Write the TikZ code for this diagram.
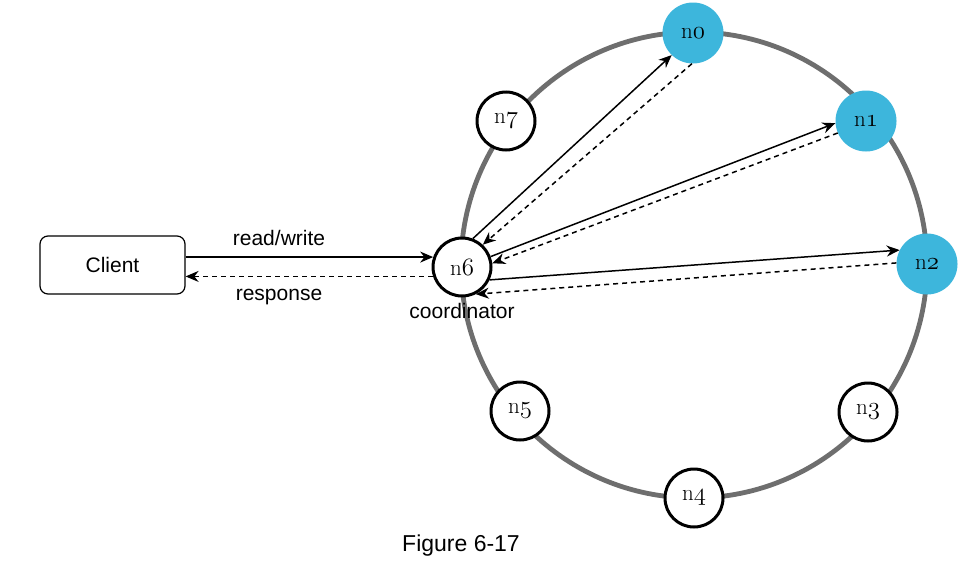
\documentclass[tikz,border=0pt]{standalone}
\usepackage{fontspec}
\setmainfont{Liberation Sans}
\newfontfamily\lmrfont{Latin Modern Roman}
\usetikzlibrary{arrows.meta}
\newcommand\osn[1]{{\fontencoding{OML}\fontfamily{cmm}\fontseries{m}\fontshape{it}\selectfont #1}}
\newcommand\nlab[1]{{\lmrfont n}\osn{#1}}
\definecolor{nblue}{HTML}{3DB6DC}
\definecolor{ringgray}{HTML}{6E6E6E}
\begin{document}
\begin{tikzpicture}[x=1pt,y=-1pt,
  ringnode/.style={circle, draw=black, line width=3pt, fill=white, minimum size=58pt, inner sep=0pt, font=\fontsize{23}{27}\selectfont},
  hotnode/.style={circle, fill=nblue, minimum size=61pt, inner sep=0pt, font=\fontsize{23}{27}\selectfont},
  req/.style={-{Stealth[length=13pt,width=11pt]}, line width=1.5pt, black},
  resp/.style={req, dash pattern=on 5pt off 4pt},
  lbl/.style={font=\fontsize{21}{25}\selectfont, inner sep=0pt, anchor=base},
  box/.style={draw=black, line width=1.2pt, rounded corners=8pt, minimum width=145pt, minimum height=58pt, font=\fontsize{21}{25}\selectfont}]
\useasboundingbox (0,0) rectangle (976,562);
\fill[white] (0,0) rectangle (976,562);
\draw[ringgray, line width=4.8pt] (694,265) circle (233);
\node[hotnode] (n0) at (693,33) {\nlab{0}};
\node[hotnode] (n1) at (866,121) {\nlab{1}};
\node[hotnode] (n2) at (927,264) {\nlab{2}};
\node[ringnode] (n3) at (868,412) {\nlab{3}};
\node[ringnode] (n4) at (694,498) {\nlab{4}};
\node[ringnode] (n5) at (520,411) {\nlab{5}};
\node[ringnode] (n6) at (462,267) {\nlab{6}};
\node[ringnode] (n7) at (506,121) {\nlab{7}};
\node[box] (client) at (112.5,265) {Client};
\node[lbl] (rw) at (279,245) {read/write};
\node[lbl] (rs) at (279,300) {response};
\node[lbl] (co) at (462,318) {coordinator};
\node[font=\fontsize{23}{27}\selectfont, inner sep=0pt, anchor=base] (fig) at (461,551) {Figure 6-17};
% client <-> coordinator
\draw[req] (client.east |- n6.161) -- (n6.161);
\draw[resp] (n6.198) -- (client.east |- n6.198);
% coordinator -> replicas
\draw[req] (n6.69) -- (n0.226);
\draw[resp] (n0.268) -- (n6.47);
\draw[req] (n6.20) -- (n1.184);
\draw[resp] (n1.203) -- (n6.7);
\draw[req] (n6.-25) -- (n2.153);
\draw[resp] (n2.178) -- (n6.-63);
\end{tikzpicture}
\end{document}
